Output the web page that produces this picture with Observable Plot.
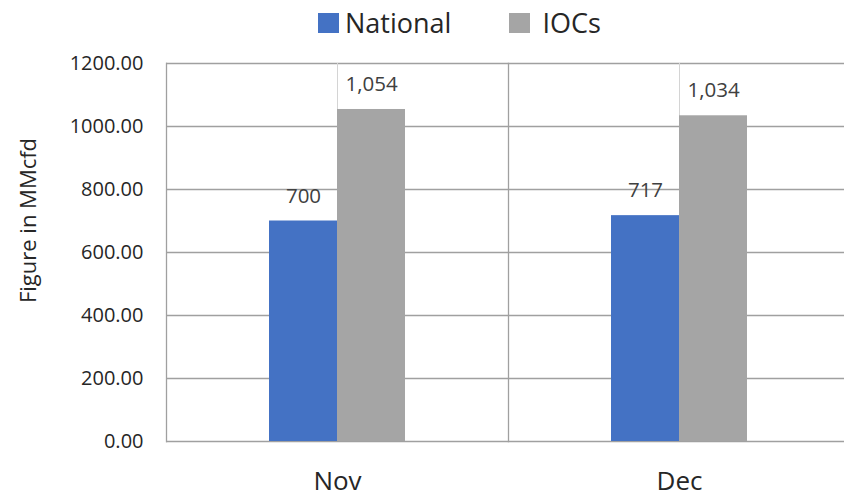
<!DOCTYPE html>
<html>
<head>
<meta charset="utf-8">
<script src="https://cdn.jsdelivr.net/npm/d3@7"></script>
<script src="https://cdn.jsdelivr.net/npm/@observablehq/plot@0.6"></script>
<style>
  html, body { margin: 0; padding: 0; background: #fff; overflow: hidden; width: 844px; height: 498px; }
  #legend { height: 45px; display: flex; align-items: center; font-family: "Open Sans", sans-serif; font-size: 27px; color: #262626; padding-left: 318px; box-sizing: border-box; }
  .item { display: flex; align-items: center; }
  .sw { width: 21px; height: 20px; display: inline-block; margin-right: 6px; }
  #chart svg { overflow: hidden; display: block; max-width: none; height: 453px; }
</style>
</head>
<body>
<div id="legend"></div>
<div id="chart"></div>
<script>
const months = ["Nov", "Dec"];
const series = ["National", "IOCs"];
const national = [700, 717];
const iocs = [1054, 1034];
const yTicks = [0, 200, 400, 600, 800, 1000, 1200];
const colors = ["#4472C4", "#A5A5A5"];
const yLabel = "Figure in MMcfd";

const rows = [];
months.forEach((m, i) => {
  rows.push({month: m, series: series[0], value: national[i]});
  rows.push({month: m, series: series[1], value: iocs[i]});
});

// legend
const legend = document.getElementById("legend");
series.forEach((s, i) => {
  const it = document.createElement("div");
  it.className = "item";
  if (i > 0) it.style.marginLeft = "58px";
  const sw = document.createElement("span");
  sw.className = "sw";
  sw.style.background = colors[i];
  if (i > 0) sw.style.marginRight = "12px";
  it.appendChild(sw);
  const t = document.createElement("span");
  t.textContent = s;
  it.appendChild(t);
  legend.appendChild(it);
});

const grid = "#a0a0a0";
const chart = Plot.plot({
  width: 850,
  height: 453,
  marginTop: 18,
  marginBottom: 57,
  marginLeft: 166,
  marginRight: 0,
  style: {fontFamily: "Open Sans, sans-serif", color: "#262626", background: "#fff"},
  fx: {domain: months, paddingInner: 0, paddingOuter: 0, label: null},
  x: {domain: series, paddingInner: 0, paddingOuter: 1.5, axis: null},
  y: {domain: [0, 1200], axis: null},
  color: {domain: series, range: colors},
  marks: [
    Plot.ruleY(yTicks, {stroke: grid, strokeWidth: 1.3}),
    Plot.ruleX(months, {fx: d => d, x: null, y1: 0, y2: 1200, stroke: "#d4d4d4", strokeWidth: 1}),
    Plot.frame({anchor: "left", stroke: grid, strokeWidth: 1.3}),
    Plot.barY(rows, {fx: "month", x: "series", y: "value", fill: "series"}),
    Plot.text(rows, {fx: "month", x: "series", y: "value", text: d => d3.format(",")(d.value), dy: -25, lineAnchor: "middle", fontSize: 20.5, fill: "#404040"}),
    Plot.axisY({ticks: yTicks, tickSize: 0, tickPadding: 23, fontSize: 20, tickFormat: d3.format(".2f"), label: null}),
    Plot.axisFx({anchor: "bottom", tickSize: 0, tickPadding: 30, fontSize: 26, label: null}),
    Plot.text([yLabel], {fx: () => months[0], frameAnchor: "left", textAnchor: "middle", rotate: -90, dx: -138, dy: -32, fontSize: 22, fill: "#262626"})
  ]
});
document.getElementById("chart").appendChild(chart);
</script>
</body>
</html>
